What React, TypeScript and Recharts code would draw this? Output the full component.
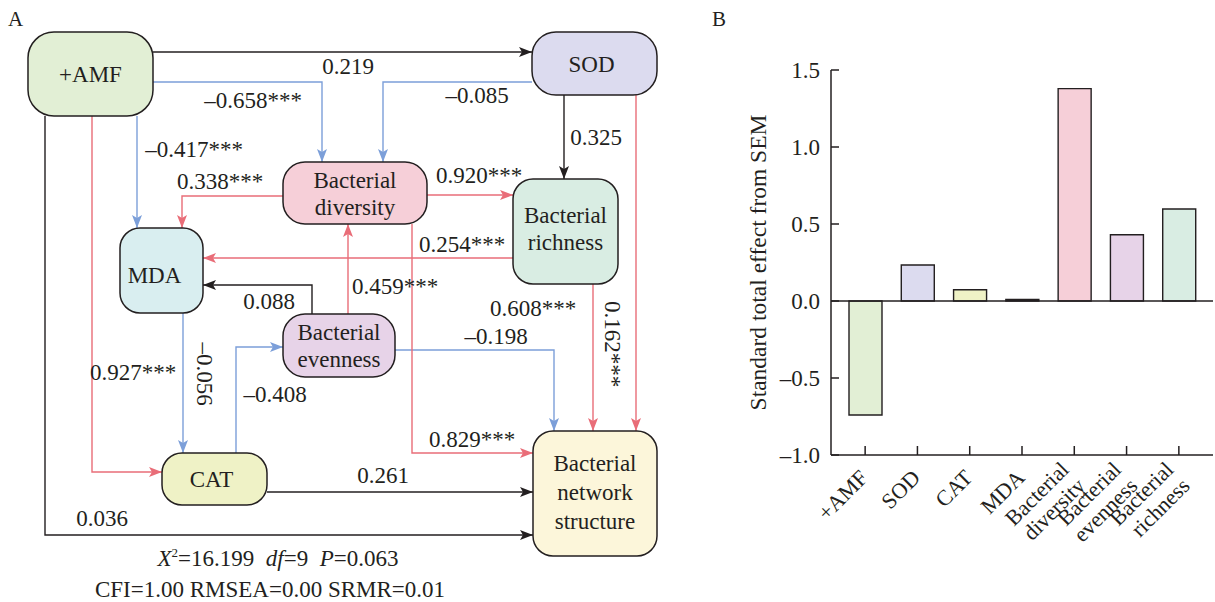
import React from "react";
import { BarChart, Bar, XAxis, YAxis, Cell, ReferenceLine } from "recharts";

const FONT = '"Liberation Serif", "Times New Roman", serif';
const INK = "#231f20";
const POS = "#e96d78";
const NEG = "#7c9fd9";

// ---- panel B: total effects ----
const effectNames = ["+AMF", "SOD", "CAT", "MDA", "Bacterial diversity", "Bacterial evenness", "Bacterial richness"];
const totalEffects = [-0.74, 0.234, 0.073, 0.01, 1.379, 0.43, 0.597];
const effectFills = ["#e2efd5", "#dcdbef", "#eff2c6", "#d9eef0", "#f6cfd8", "#e7d3e8", "#d9ede3"];
const yTicks = [-1, -0.5, 0, 0.5, 1, 1.5];

// ---- panel A: SEM paths ----
const nodeIds = ["amf", "sod", "div", "rich", "mda", "even", "cat", "net"];
const nodeLabels = ["+AMF", "SOD", "Bacterial\ndiversity", "Bacterial\nrichness", "MDA", "Bacterial\nevenness", "CAT", "Bacterial\nnetwork\nstructure"];
const nodeFills = ["#e2efd5", "#dcdbef", "#f6cfd8", "#d9ede3", "#d9eef0", "#e7d3e8", "#eff2c6", "#fcf6da"];

const pathFrom = ["amf", "amf", "sod", "amf", "div", "rich", "even", "even", "div", "sod", "sod", "rich", "even", "div", "cat", "amf", "amf", "mda", "cat"];
const pathTo = ["sod", "div", "div", "mda", "mda", "mda", "mda", "div", "rich", "rich", "net", "net", "net", "net", "net", "net", "cat", "cat", "even"];
const pathCoefs = ["0.219", "–0.658***", "–0.085", "–0.417***", "0.338***", "0.254***", "0.088", "0.459***", "0.920***", "0.325", "0.162***", "0.608***", "–0.198", "0.829***", "0.261", "0.036", "0.927***", "–0.056", "–0.408"];

const fitLine1 = { chi: "16.199", df: "9", p: "0.063" };
const fitLine2 = "CFI=1.00 RMSEA=0.00 SRMR=0.01";

// layout of the diagram (boxes, routes, label spots)
const BOX: Record<string, { x: number; y: number; w: number; h: number; r: number; dx?: number; dy?: number }> = {
  amf: { x: 28, y: 32, w: 125, h: 84, r: 26 },
  sod: { x: 532, y: 32, w: 125, h: 63, r: 24, dx: -3 },
  div: { x: 283, y: 162, w: 144, h: 62, r: 22 },
  rich: { x: 513, y: 179, w: 105, h: 105, r: 20, dy: -3 },
  mda: { x: 120, y: 228, w: 83, h: 85, r: 20, dx: -7, dy: 4 },
  even: { x: 283, y: 314, w: 112, h: 63, r: 22 },
  cat: { x: 162, y: 453, w: 105, h: 52, r: 20, dx: -3 },
  net: { x: 533, y: 431, w: 124, h: 125, r: 20, dy: -2 },
};

const ROUTES: number[][][] = [
  [[153, 52], [532, 52]],
  [[153, 82], [322, 82], [322, 162]],
  [[532, 82], [383, 82], [383, 162]],
  [[137, 116], [137, 228]],
  [[283, 196], [182, 196], [182, 228]],
  [[513, 258], [203, 258]],
  [[312, 314], [312, 285], [203, 285]],
  [[348, 314], [348, 224]],
  [[427, 195], [513, 195]],
  [[564, 95], [564, 179]],
  [[636, 95], [636, 431]],
  [[593, 284], [593, 431]],
  [[395, 350], [554, 350], [554, 431]],
  [[412, 224], [412, 453], [533, 453]],
  [[267, 492], [533, 492]],
  [[45, 116], [45, 535], [533, 535]],
  [[92, 116], [92, 472], [162, 472]],
  [[183, 313], [183, 453]],
  [[236, 453], [236, 347], [283, 347]],
];

const LABEL_AT: { x: number; y: number; rot?: boolean }[] = [
  { x: 348, y: 74 },
  { x: 253, y: 108 },
  { x: 477, y: 103 },
  { x: 194, y: 157 },
  { x: 220, y: 189 },
  { x: 462, y: 252 },
  { x: 269, y: 309 },
  { x: 395, y: 294 },
  { x: 479, y: 183 },
  { x: 596, y: 145 },
  { x: 613, y: 344, rot: true },
  { x: 533, y: 316 },
  { x: 496, y: 344 },
  { x: 472, y: 447 },
  { x: 383, y: 483 },
  { x: 102, y: 526 },
  { x: 133, y: 380 },
  { x: 205, y: 374, rot: true },
  { x: 275, y: 402 },
];

const coefColor = (c: string) => (c.startsWith("–") ? NEG : c.includes("*") ? POS : INK);

function PathDiagram() {
  const fs = 23;
  const colors = [INK, POS, NEG];
  return (
    <svg width={700} height={602} style={{ position: "absolute", left: 0, top: 0 }} fontFamily={FONT}>
      <defs>
        {colors.map((c, i) => (
          <marker key={c} id={`arr${i}`} markerUnits="userSpaceOnUse" markerWidth={13} markerHeight={10} refX={13} refY={5} orient="auto">
            <path d="M0,0 L13,5 L0,10 L3,5 z" fill={c} />
          </marker>
        ))}
      </defs>
      <text x={8} y={26} fontSize={21} fill={INK}>A</text>

      {ROUTES.map((pts, i) => {
        const col = coefColor(pathCoefs[i]);
        return (
          <polyline
            key={`${pathFrom[i]}-${pathTo[i]}`}
            points={pts.map((p) => p.join(",")).join(" ")}
            fill="none"
            stroke={col}
            strokeWidth={1.4}
            markerEnd={`url(#arr${colors.indexOf(col)})`}
          />
        );
      })}

      {nodeIds.map((id, i) => {
        const b = BOX[id];
        const lines = nodeLabels[i].split("\n");
        const lh = lines.length > 2 ? 29 : 27;
        const cx = b.x + b.w / 2 + (b.dx || 0);
        const cy = b.y + b.h / 2 + (b.dy || 0);
        return (
          <g key={id}>
            <rect x={b.x} y={b.y} width={b.w} height={b.h} rx={b.r} ry={b.r} fill={nodeFills[i]} stroke={INK} strokeWidth={1.5} />
            <text textAnchor="middle" fontSize={fs} fill={INK}>
              {lines.map((l, k) => (
                <tspan key={k} x={cx} y={cy + (k - (lines.length - 1) / 2) * lh + 0.35 * fs}>{l}</tspan>
              ))}
            </text>
          </g>
        );
      })}

      {pathCoefs.map((c, i) => {
        const p = LABEL_AT[i];
        return p.rot ? (
          <text key={i} x={p.x} y={p.y} dy="0.35em" textAnchor="middle" fontSize={fs} fill={INK} transform={`rotate(90 ${p.x} ${p.y})`}>{c}</text>
        ) : (
          <text key={i} x={p.x} y={p.y} textAnchor="middle" fontSize={fs} fill={INK}>{c}</text>
        );
      })}

      <text x={278} y={566} textAnchor="middle" fontSize={fs} fill={INK}>
        <tspan fontStyle="italic">X</tspan>
        <tspan fontSize={13} dy={-9}>2</tspan>
        <tspan dy={9}>={fitLine1.chi}{"\u00a0\u00a0"}</tspan>
        <tspan fontStyle="italic">df</tspan>
        <tspan>={fitLine1.df}{"\u00a0\u00a0"}</tspan>
        <tspan fontStyle="italic">P</tspan>
        <tspan>={fitLine1.p}</tspan>
      </text>
      <text x={270} y={597} textAnchor="middle" fontSize={fs} fill={INK}>{fitLine2}</text>
    </svg>
  );
}

const fmtTick = (v: number) => (v < 0 ? "–" + Math.abs(v).toFixed(1) : v.toFixed(1));

function YTick(props: any) {
  const { x, y, payload } = props;
  return (
    <g>
      <line x1={x} x2={x + 8} y1={y} y2={y} stroke={INK} strokeWidth={1.5} />
      <text x={x - 11} y={y} dy="0.35em" textAnchor="end" fontSize={23} fontFamily={FONT} fill={INK}>
        {fmtTick(payload.value)}
      </text>
    </g>
  );
}

function XTick(props: any) {
  const { x, y, payload } = props;
  const name: string = payload.value;
  const lines = name.startsWith("Bacterial ") ? ["Bacterial", name.slice(10)] : [name];
  const ax = x + 4;
  const ay = y + 24;
  const lh = 23;
  return (
    <g>
      <line x1={x} x2={x} y1={y} y2={y - 9} stroke={INK} strokeWidth={1.5} />
      <text textAnchor="end" fontSize={22} fontFamily={FONT} fill={INK} transform={`rotate(-45 ${ax} ${ay})`}>
        {lines.map((l, k) => (
          <tspan key={k} x={ax} y={ay + (k - (lines.length - 1) / 2) * lh}>{l}</tspan>
        ))}
      </text>
    </g>
  );
}

function YTitle(props: any) {
  const vb = props && props.viewBox ? props.viewBox : { x: 0, y: 70, width: 131, height: 385 };
  const cx = vb.x + 58;
  const cy = vb.y + vb.height / 2;
  return (
    <text x={cx} y={cy} dy="0.35em" textAnchor="middle" fontSize={23.5} fontFamily={FONT} fill={INK} transform={`rotate(-90 ${cx} ${cy})`}>
      Standard total effect from SEM
    </text>
  );
}

export default function App() {
  const data = effectNames.map((name, i) => ({ name, effect: totalEffects[i] }));
  return (
    <div style={{ position: "absolute", left: 0, top: 0, width: 1215, height: 602, background: "#fff", overflow: "hidden" }}>
      <PathDiagram />
      <div style={{ position: "absolute", left: 700, top: 0 }}>
        <svg width={40} height={40} style={{ position: "absolute", left: 0, top: 0 }}>
          <text x={12} y={26} fontSize={21} fontFamily={FONT} fill={INK}>B</text>
        </svg>
        <BarChart width={515} height={602} data={data} margin={{ top: 70, right: 2, bottom: 0, left: 0 }}>
          <XAxis
            dataKey="name"
            type="category"
            interval={0}
            height={147}
            padding={{ left: 8, right: 8 }}
            tickSize={0}
            tickMargin={0}
            tickLine={false}
            axisLine={{ stroke: INK, strokeWidth: 1.5 }}
            tick={XTick}
          />
          <YAxis
            type="number"
            domain={[-1, 1.5]}
            ticks={yTicks}
            width={131}
            tickSize={0}
            tickMargin={0}
            tickLine={false}
            axisLine={{ stroke: INK, strokeWidth: 1.5 }}
            tick={YTick}
            label={YTitle}
          />
          <Bar dataKey="effect" barSize={33} stroke={INK} strokeWidth={1.4} isAnimationActive={false}>
            {data.map((d, i) => (
              <Cell key={d.name} fill={effectFills[i]} />
            ))}
          </Bar>
          <ReferenceLine y={0} stroke={INK} strokeWidth={1.5} />
        </BarChart>
      </div>
    </div>
  );
}
